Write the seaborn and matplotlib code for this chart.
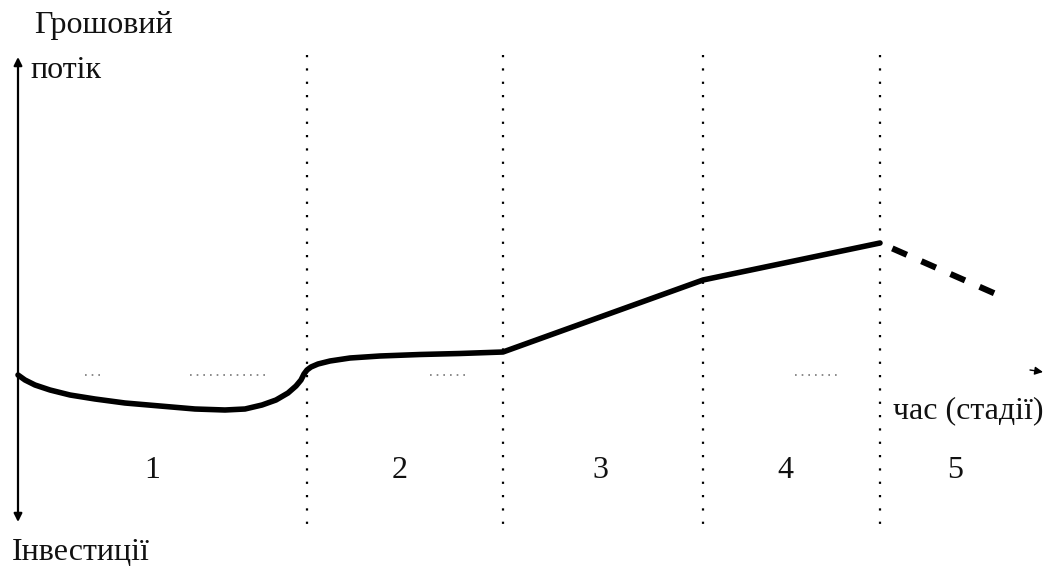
import matplotlib
matplotlib.use("Agg")
import matplotlib.pyplot as plt
import seaborn as sns
import pandas as pd

sns.set_theme(style="white")
plt.rcParams['font.family'] = ['Liberation Serif', 'DejaVu Serif']

# Schematic data (pixel-like units, y grows downward)
curve_x = [18, 25, 35, 50, 70, 95, 125, 160, 195, 225, 245, 262, 276, 288, 296, 301, 304, 307, 311, 318, 330, 350, 380, 420, 460, 503, 703, 880]
curve_y = [375, 380, 385, 390, 395, 399, 403, 406, 409, 410, 409, 405, 400, 393, 386, 380, 374, 370, 367, 364, 361, 358, 356, 354.5, 353.5, 352, 280, 243]
decline_x = [880, 1005]
decline_y = [243, 298]
stage_bounds = [307, 503, 703, 880]
stage_labels = ["1", "2", "3", "4", "5"]
stage_label_x = [152, 400, 600, 785, 955]

fig = plt.figure(figsize=(10.45, 5.73), dpi=100)
ax = fig.add_axes([0, 0, 1, 1])
ax.set_xlim(0, 1045)
ax.set_ylim(573, 0)
ax.axis("off")

# Vertical stage boundaries
for b in stage_bounds:
    ax.plot([b, b], [55, 527], color="black", lw=1.6, linestyle=(0, (1, 5)))

# Main curve
df = pd.DataFrame({"x": curve_x, "y": curve_y})
sns.lineplot(data=df, x="x", y="y", ax=ax, color="black", lw=4.0, sort=False,
             estimator=None)
ax.lines[-1].set_solid_joinstyle("round")
ax.lines[-1].set_solid_capstyle("round")
df2 = pd.DataFrame({"x": decline_x, "y": decline_y})
sns.lineplot(data=df2, x="x", y="y", ax=ax, color="black", lw=4.4, sort=False,
             estimator=None, linestyle=(3.0, (2.6, 2.6)))

# Vertical axis with arrows both ways
ax.annotate("", xy=(18, 57), xytext=(18, 376),
            arrowprops=dict(arrowstyle="-|>", color="black", lw=1.6,
                            mutation_scale=12, shrinkA=0, shrinkB=0))
ax.annotate("", xy=(18, 522), xytext=(18, 374),
            arrowprops=dict(arrowstyle="-|>", color="black", lw=1.6,
                            mutation_scale=12, shrinkA=0, shrinkB=0))

# faint horizontal axis dots + arrowhead
for seg in [(85, 100), (190, 270), (430, 465), (795, 840)]:
    ax.plot(list(seg), [375, 375], color="#777777", lw=1.2, linestyle=(0, (1, 3)))
ax.annotate("", xy=(1043, 372), xytext=(1030, 370),
            arrowprops=dict(arrowstyle="-|>", color="black", lw=1.0,
                            mutation_scale=12, shrinkA=0, shrinkB=0))

# Texts
fs = 23
ax.text(34, 26, "Грошовий", fontsize=fs, va="center", ha="left", color="#111111")
ax.text(30, 70, "потік", fontsize=fs, va="center", ha="left", color="#111111")
ax.text(12, 552, "Інвестиції", fontsize=fs, va="center", ha="left", color="#111111")
ax.text(893, 411, "час (стадії)", fontsize=fs, va="center", ha="left", color="#111111")
for lx, lab in zip(stage_label_x, stage_labels):
    ax.text(lx, 471, lab, fontsize=fs, va="center", ha="center", color="#111111")

fig.savefig("out.png", dpi=100)
